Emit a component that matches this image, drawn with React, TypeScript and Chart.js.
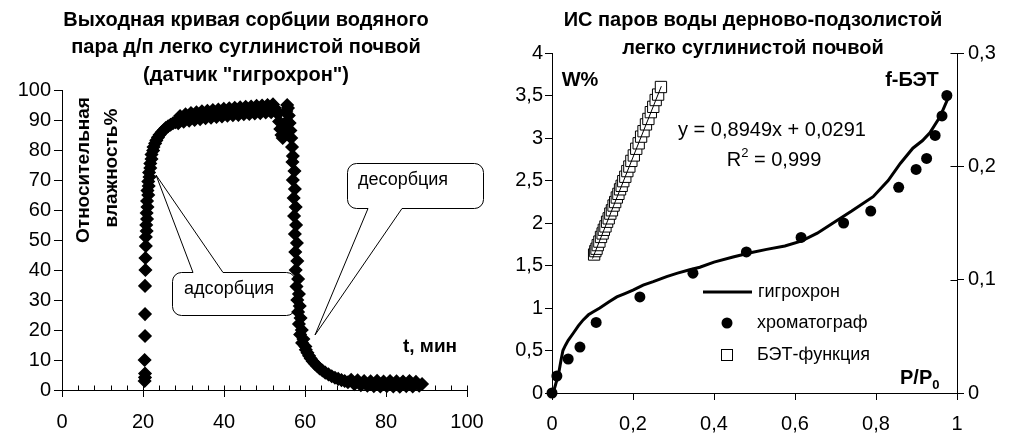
import React, { useEffect, useRef } from "react";
import { Chart, registerables } from "chart.js";

Chart.register(...registerables);

const FONT = "Arial, 'Liberation Sans', Helvetica, sans-serif";

// ---------------- Left chart: output sorption curve ----------------
const adsorptionTime = [
  20.4, 20.5, 20.5, 20.4, 20.5, 20.5, 20.5, 20.6, 20.6, 20.7,
  20.7, 20.9, 20.8, 21.0, 20.9, 21.1, 21.0, 21.3, 21.1, 21.4,
  21.3, 21.6, 21.5, 21.8, 21.8, 22.1, 22.1, 22.5, 22.6, 23.0,
  23.3, 23.7, 24.1, 24.6, 25.1, 25.6, 26.2, 26.8, 27.4, 28.0,
  28.7, 29.15, 29.6, 30.05, 30.5, 30.95, 31.4, 31.85, 32.3, 32.75,
  33.2, 33.65, 34.1, 34.55, 35.0, 35.45, 35.9, 36.35, 36.8, 37.25,
  37.7, 38.15, 38.6, 39.05, 39.5, 39.95, 40.4, 40.85, 41.3, 41.75,
  42.2, 42.65, 43.1, 43.55, 44.0, 44.45, 44.9, 45.35, 45.8, 46.25,
  46.7, 47.15, 47.6, 48.05, 48.5, 48.95, 49.4, 49.85, 50.3, 50.75,
  51.2, 51.65, 52.1, 52.55, 53.0,
];
const adsorptionRH = [
  3.0, 4.2, 5.5, 10.0, 18.0, 25.3, 34.7, 40.0, 44.0, 48.0,
  51.0, 53.0, 55.0, 57.0, 59.0, 61.0, 63.0, 65.0, 66.5, 68.0,
  69.5, 71.0, 72.5, 74.0, 75.5, 77.0, 78.5, 79.8, 81.0, 82.2,
  83.2, 84.2, 85.1, 85.9, 86.6, 87.3, 87.9, 88.4, 88.9, 89.3,
  88.9, 91.3, 90.2, 89.4, 91.9, 90.9, 89.8, 92.3, 91.2, 90.0,
  92.6, 91.5, 90.3, 92.9, 91.7, 90.6, 93.1, 92.0, 90.8, 93.3,
  92.2, 91.0, 93.5, 92.4, 91.2, 93.7, 92.6, 91.4, 93.9, 92.8,
  91.6, 94.1, 92.9, 91.7, 94.2, 93.1, 91.9, 94.4, 93.2, 92.0,
  94.5, 93.4, 92.2, 94.7, 93.5, 92.3, 94.8, 93.6, 92.5, 95.0,
  93.8, 92.6, 95.2, 94.0, 92.8,
];
const desorptionTime = [
  53.3, 53.6, 53.9, 54.2, 54.5, 54.8, 55.1, 55.4, 55.6, 55.8,
  56.0, 56.2, 56.4, 56.6, 56.8, 57.0, 56.9, 57.4, 57.0, 57.5,
  57.2, 57.7, 57.3, 57.8, 57.5, 58.0, 57.6, 58.1, 57.7, 58.3,
  57.9, 58.5, 58.1, 58.7, 58.3, 58.9, 58.5, 59.2, 58.8, 59.6,
  59.3, 60.1, 60.2, 60.6, 61.0, 61.4, 61.9, 62.4, 63.0, 63.6,
  64.3, 65.0, 65.8, 66.6, 67.4, 68.2, 69.0, 69.8, 70.6, 71.4,
  72.2, 73.0, 73.8, 74.6, 75.4, 76.2, 77.0, 77.8, 78.6, 79.4,
  80.2, 81.0, 81.8, 82.6, 83.4, 84.2, 85.0, 85.8, 86.6, 87.4, 88.2, 88.9,
];
const desorptionRH = [
  92.0, 89.5, 87.0, 85.0, 84.0, 86.0, 89.0, 93.0, 95.0, 94.0,
  91.5, 89.0, 86.5, 84.0, 81.0, 78.0, 76.0, 73.0, 70.0, 67.0,
  64.0, 61.0, 58.0, 55.0, 52.0, 49.0, 46.0, 43.0, 40.0, 37.0,
  34.5, 32.0, 30.0, 28.0, 26.0, 24.0, 22.0, 20.0, 18.5, 17.0,
  15.7, 14.5, 13.4, 12.4, 11.4, 10.5, 9.6, 8.8, 8.0, 7.2,
  6.5, 5.8, 5.2, 4.6, 4.1, 3.7, 3.3, 3.0, 2.6, 3.4,
  1.9, 3.2, 1.6, 3.0, 1.4, 2.9, 1.3, 3.1, 1.2, 2.8,
  1.3, 3.0, 1.2, 2.9, 1.1, 2.8, 1.3, 3.0, 1.2, 2.7, 1.4, 2.0,
];
const leftTitle = [
  "Выходная кривая сорбции водяного",
  "пара д/п легко суглинистой почвой",
  '(датчик "гигрохрон")',
];
const leftYTitle = ["Относительная", "влажность%"];
const leftXTitle = "t, мин";
const adsorptionLabel = "адсорбция";
const desorptionLabel = "десорбция";

// ---------------- Right chart: isotherm ----------------
const rightTitle = ["ИС паров воды дерново-подзолистой", "легко суглинистой почвой"];
const hygroP = [
  0.003, 0.010, 0.015, 0.022, 0.027, 0.033, 0.040, 0.052, 0.065, 0.077,
  0.090, 0.100, 0.118, 0.140, 0.160, 0.180, 0.200, 0.225, 0.250, 0.283,
  0.310, 0.340, 0.365, 0.400, 0.447, 0.490, 0.530, 0.575, 0.617, 0.655,
  0.694, 0.740, 0.793, 0.830, 0.860, 0.891, 0.915, 0.933, 0.958, 0.978,
];
const hygroW = [
  0.00, 0.12, 0.19, 0.38, 0.50, 0.56, 0.62, 0.70, 0.79, 0.86,
  0.92, 0.95, 1.00, 1.07, 1.13, 1.17, 1.21, 1.27, 1.31, 1.37,
  1.41, 1.45, 1.48, 1.54, 1.60, 1.65, 1.69, 1.73, 1.79, 1.88,
  2.00, 2.14, 2.31, 2.50, 2.70, 2.88, 2.97, 3.06, 3.25, 3.47,
];
const chromP = [0, 0.012, 0.04, 0.069, 0.109, 0.217, 0.348, 0.48, 0.615, 0.72, 0.787, 0.856, 0.899, 0.925, 0.946, 0.963, 0.975];
const chromW = [0.0, 0.2, 0.4, 0.54, 0.83, 1.13, 1.41, 1.66, 1.83, 2.0, 2.14, 2.42, 2.63, 2.76, 3.03, 3.26, 3.5];
const betP = [
  0.104, 0.107, 0.110, 0.113, 0.117, 0.121, 0.125, 0.128, 0.132, 0.136,
  0.140, 0.144, 0.148, 0.152, 0.156, 0.160, 0.164, 0.168, 0.172, 0.176,
  0.181, 0.186, 0.191, 0.196, 0.202, 0.208, 0.214, 0.220, 0.226, 0.232,
  0.238, 0.244, 0.250, 0.256, 0.262, 0.269,
];
const betF = [
  0.1222, 0.1252, 0.1273, 0.1305, 0.1336, 0.1377, 0.1408, 0.1440, 0.1470, 0.1511,
  0.1541, 0.1583, 0.1612, 0.1654, 0.1685, 0.1725, 0.1757, 0.1797, 0.1828, 0.1869,
  0.1908, 0.1958, 0.1998, 0.2048, 0.2096, 0.2155, 0.2203, 0.2262, 0.2310, 0.2370,
  0.2418, 0.2478, 0.2525, 0.2585, 0.2633, 0.2700,
];
const trendP = [0.1, 0.27];
const trendF = [0.1186, 0.2707];
const seriesNames = ["гигрохрон", "хроматограф", "БЭТ-функция"];
const regressionText = "y = 0,8949x + 0,0291";
const r2Text = "0,999";

const zip = (xs: number[], ys: number[]) => xs.map((x, i) => ({ x, y: ys[i] }));
const fmt = (v: number) => String(Math.round(v * 1000) / 1000).replace(".", ",");

function txt(ctx: CanvasRenderingContext2D, s: string, x: number, y: number, font: string, align: CanvasTextAlign = "center") {
  ctx.save();
  ctx.font = font;
  ctx.fillStyle = "#000";
  ctx.textAlign = align;
  ctx.textBaseline = "middle";
  ctx.fillText(s, x, y);
  ctx.restore();
}

function callout(
  ctx: CanvasRenderingContext2D,
  x1: number, y1: number, x2: number, y2: number, r: number,
  wa: number, wb: number, tx: number, ty: number, side: "top" | "bottom"
) {
  ctx.save();
  ctx.beginPath();
  ctx.moveTo(x1 + r, y1);
  if (side === "top") {
    ctx.lineTo(wa, y1);
    ctx.lineTo(tx, ty);
    ctx.lineTo(wb, y1);
  }
  ctx.lineTo(x2 - r, y1);
  ctx.arcTo(x2, y1, x2, y1 + r, r);
  ctx.lineTo(x2, y2 - r);
  ctx.arcTo(x2, y2, x2 - r, y2, r);
  if (side === "bottom") {
    ctx.lineTo(wb, y2);
    ctx.lineTo(tx, ty);
    ctx.lineTo(wa, y2);
  }
  ctx.lineTo(x1 + r, y2);
  ctx.arcTo(x1, y2, x1, y2 - r, r);
  ctx.lineTo(x1, y1 + r);
  ctx.arcTo(x1, y1, x1 + r, y1, r);
  ctx.closePath();
  ctx.fillStyle = "#fff";
  ctx.fill();
  ctx.strokeStyle = "#000";
  ctx.lineWidth = 1;
  ctx.stroke();
  ctx.restore();
}

const tickFont = { family: FONT, size: 20 };
const gridStyle = (len: number) => ({
  drawOnChartArea: false,
  drawTicks: true,
  tickLength: len,
  color: "#000",
  lineWidth: 1,
});
const borderStyle = { display: true, color: "#000", width: 1 };

const leftDecor = {
  id: "leftDecor",
  beforeDatasetsDraw(chart: any) {
    const ctx = chart.ctx as CanvasRenderingContext2D;
    callout(ctx, 172.5, 272.5, 295.5, 315.5, 9, 193, 223, 156, 175, "top");
    callout(ctx, 347.5, 163.5, 483.5, 208.5, 9, 368, 402, 315, 335, "bottom");
    txt(ctx, adsorptionLabel, 229, 289, `18px ${FONT}`);
    txt(ctx, desorptionLabel, 403, 180, `18px ${FONT}`);
  },
  afterDraw(chart: any) {
    const ctx = chart.ctx as CanvasRenderingContext2D;
    const bold = `bold 20px ${FONT}`;
    leftTitle.forEach((s, i) => txt(ctx, s, 246, 20 + i * 27.5, bold));
    ctx.save();
    ctx.translate(84, 170);
    ctx.rotate(-Math.PI / 2);
    txt(ctx, leftYTitle[0], 0, 0, `bold 19px ${FONT}`);
    ctx.restore();
    ctx.save();
    ctx.translate(112, 168);
    ctx.rotate(-Math.PI / 2);
    txt(ctx, leftYTitle[1], 0, 0, `bold 19px ${FONT}`);
    ctx.restore();
    txt(ctx, leftXTitle, 430, 347, `bold 19px ${FONT}`);
    const xs = chart.scales.x;
    const yb = Math.round(chart.chartArea.bottom) + 0.5;
    ctx.save();
    ctx.strokeStyle = "#000";
    ctx.lineWidth = 1;
    for (let v = 0; v <= 100; v += 4) {
      const px = Math.round(xs.getPixelForValue(v)) + 0.5;
      ctx.beginPath();
      ctx.moveTo(px, yb);
      ctx.lineTo(px, yb - 5);
      ctx.stroke();
    }
    ctx.restore();
  },
};

const rightDecor = {
  id: "rightDecor",
  afterDraw(chart: any) {
    const ctx = chart.ctx as CanvasRenderingContext2D;
    const bold = `bold 20px ${FONT}`;
    rightTitle.forEach((s, i) => txt(ctx, s, 253, 20 + i * 28, bold));
    txt(ctx, "W%", 80, 80, bold);
    txt(ctx, "f-БЭТ", 412, 80, bold);
    ctx.save();
    ctx.font = bold;
    const wP = ctx.measureText("P/P").width;
    ctx.restore();
    txt(ctx, "P/P", 400, 378, bold, "left");
    txt(ctx, "0", 400 + wP, 385, `bold 13px ${FONT}`, "left");
    const reg = `20px ${FONT}`;
    txt(ctx, regressionText, 272, 130, reg);
    ctx.save();
    ctx.font = reg;
    const wR = ctx.measureText("R").width;
    const wRest = ctx.measureText(" = " + r2Text).width;
    ctx.font = `13px ${FONT}`;
    const w2 = ctx.measureText("2").width;
    ctx.restore();
    const total = wR + w2 + wRest;
    const x0 = 274 - total / 2;
    txt(ctx, "R", x0, 160, reg, "left");
    txt(ctx, "2", x0 + wR, 153, `13px ${FONT}`, "left");
    txt(ctx, " = " + r2Text, x0 + wR + w2, 160, reg, "left");
    ctx.save();
    ctx.strokeStyle = "#000";
    ctx.lineWidth = 3;
    ctx.beginPath();
    ctx.moveTo(203, 292);
    ctx.lineTo(252, 292);
    ctx.stroke();
    ctx.fillStyle = "#000";
    ctx.beginPath();
    ctx.arc(227, 323, 5.5, 0, Math.PI * 2);
    ctx.fill();
    ctx.fillStyle = "#fff";
    ctx.lineWidth = 1;
    ctx.fillRect(221.5, 349.5, 11, 11);
    ctx.strokeRect(221.5, 349.5, 11, 11);
    ctx.restore();
    const lf = `18px ${FONT}`;
    txt(ctx, seriesNames[0], 258, 292, lf, "left");
    txt(ctx, seriesNames[1], 257, 323, lf, "left");
    txt(ctx, seriesNames[2], 257, 355, lf, "left");
    const y2 = chart.scales.y2;
    const xr = Math.round(chart.chartArea.right) + 0.5;
    ctx.save();
    ctx.strokeStyle = "#000";
    ctx.lineWidth = 1;
    [0, 0.1, 0.2, 0.3].forEach((v) => {
      const py = Math.round(y2.getPixelForValue(v)) + 0.5;
      ctx.beginPath();
      ctx.moveTo(xr - 7, py);
      ctx.lineTo(xr, py);
      ctx.stroke();
    });
    ctx.restore();
  },
};

export default function App() {
  const leftRef = useRef<HTMLCanvasElement>(null);
  const rightRef = useRef<HTMLCanvasElement>(null);

  useEffect(() => {
    const diamond = {
      pointStyle: "rectRot",
      pointRadius: 6,
      backgroundColor: "#000",
      borderColor: "#000",
      borderWidth: 1.5,
      showLine: false,
      clip: false,
    };
    const left = new Chart(leftRef.current as HTMLCanvasElement, {
      type: "scatter",
      data: {
        datasets: [
          { data: zip(adsorptionTime, adsorptionRH), ...diamond },
          { data: zip(desorptionTime, desorptionRH), ...diamond },
        ],
      } as any,
      options: {
        responsive: false,
        maintainAspectRatio: false,
        animation: false,
        events: [],
        layout: { padding: { left: 0, right: 33, top: 90, bottom: 0 } },
        plugins: { legend: { display: false }, tooltip: { enabled: false }, title: { display: false } },
        scales: {
          x: {
            type: "linear",
            min: 0,
            max: 100,
            afterFit: (s: any) => { s.height = 44; },
            ticks: { stepSize: 20, font: tickFont, color: "#000", padding: 13, maxRotation: 0, autoSkip: false, callback: (v: any) => fmt(Number(v)) },
            grid: gridStyle(7),
            border: borderStyle,
          },
          y: {
            type: "linear",
            min: 0,
            max: 100,
            afterFit: (s: any) => { s.width = 62; },
            ticks: { stepSize: 10, font: tickFont, color: "#000", padding: 3, autoSkip: false, callback: (v: any) => fmt(Number(v)) },
            grid: gridStyle(8),
            border: borderStyle,
          },
        },
      } as any,
      plugins: [leftDecor],
    });

    const right = new Chart(rightRef.current as HTMLCanvasElement, {
      type: "scatter",
      data: {
        datasets: [
          {
            data: zip(hygroP, hygroW),
            yAxisID: "y",
            showLine: true,
            borderColor: "#000",
            borderWidth: 3,
            pointRadius: 0,
            fill: false,
            clip: false,
          },
          {
            data: zip(trendP, trendF),
            yAxisID: "y2",
            showLine: true,
            borderColor: "#000",
            borderWidth: 1,
            pointRadius: 0,
            fill: false,
            clip: false,
          },
          {
            data: zip(chromP, chromW),
            yAxisID: "y",
            pointStyle: "circle",
            pointRadius: 5.5,
            backgroundColor: "#000",
            borderColor: "#000",
            borderWidth: 0,
            showLine: false,
            clip: false,
          },
          {
            data: zip(betP, betF),
            yAxisID: "y2",
            pointStyle: "rect",
            pointRadius: 8,
            backgroundColor: "#fff",
            borderColor: "#000",
            borderWidth: 1,
            showLine: false,
            clip: false,
          },
        ],
      } as any,
      options: {
        responsive: false,
        maintainAspectRatio: false,
        animation: false,
        events: [],
        layout: { padding: { left: 0, right: 0, top: 53, bottom: 0 } },
        plugins: { legend: { display: false }, tooltip: { enabled: false }, title: { display: false } },
        scales: {
          x: {
            type: "linear",
            min: 0,
            max: 1,
            afterFit: (s: any) => { s.height = 41; },
            ticks: { stepSize: 0.2, font: tickFont, color: "#000", padding: 12, maxRotation: 0, autoSkip: false, callback: (v: any) => fmt(Number(v)) },
            grid: gridStyle(7),
            border: borderStyle,
          },
          y: {
            type: "linear",
            position: "left",
            min: 0,
            max: 4,
            afterFit: (s: any) => { s.width = 52; },
            ticks: { stepSize: 0.5, font: tickFont, color: "#000", padding: 2, autoSkip: false, callback: (v: any) => fmt(Number(v)) },
            grid: gridStyle(7),
            border: borderStyle,
          },
          y2: {
            type: "linear",
            position: "right",
            min: 0,
            max: 0.3,
            afterFit: (s: any) => { s.width = 52; },
            ticks: { stepSize: 0.1, font: tickFont, color: "#000", padding: 4, autoSkip: false, callback: (v: any) => fmt(Number(v)) },
            grid: gridStyle(7),
            border: borderStyle,
          },
        },
      } as any,
      plugins: [rightDecor],
    });

    return () => {
      left.destroy();
      right.destroy();
    };
  }, []);

  return (
    <div style={{ position: "fixed", left: 0, top: 0, width: 1009, height: 434, background: "#fff" }}>
      <canvas ref={leftRef} width={500} height={434} style={{ position: "absolute", left: 0, top: 0, width: 500, height: 434 }} />
      <canvas ref={rightRef} width={509} height={434} style={{ position: "absolute", left: 500, top: 0, width: 509, height: 434 }} />
    </div>
  );
}
